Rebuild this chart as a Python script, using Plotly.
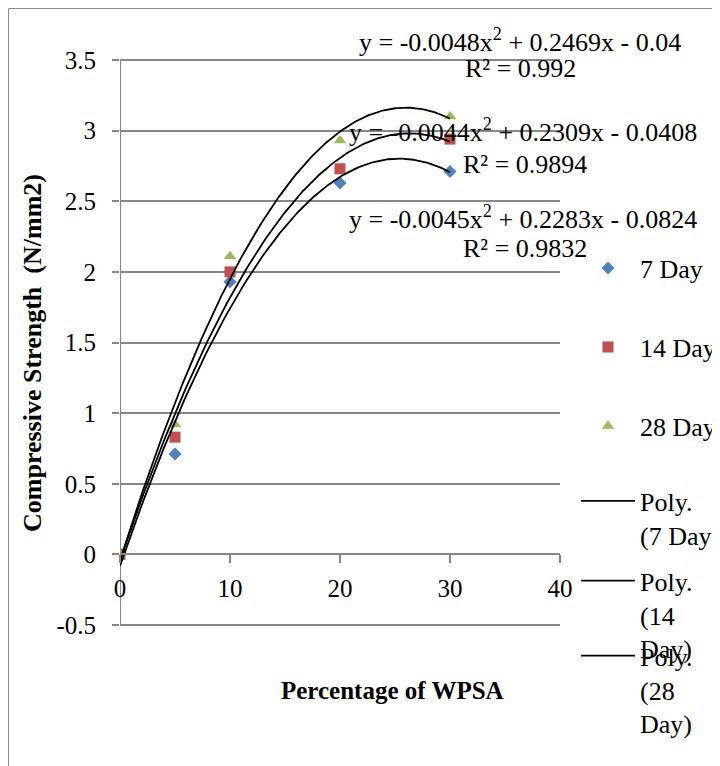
import numpy as np
import plotly.graph_objects as go

# ---------------- data ----------------
pct = [0, 5, 10, 20, 30]
day7 = [0.0, 0.71, 1.93, 2.63, 2.71]
day14 = [0.0, 0.83, 2.00, 2.73, 2.94]
day28 = [0.0, 0.92, 2.11, 2.93, 3.10]

series_names = ["7 Day", "14 Day", "28 Day"]
series_values = [day7, day14, day28]
# quadratic trendline equations as displayed on chart (a, b, c)
eq7 = [-0.0045, 0.2283, -0.0824]
eq14 = [-0.0044, 0.2309, -0.0408]
eq28 = [-0.0048, 0.2469, -0.04]
r2_values = ["0.9832", "0.9894", "0.992"]
eqs = [eq7, eq14, eq28]

y_ticks = [-0.5, 0, 0.5, 1, 1.5, 2, 2.5, 3, 3.5]
x_ticks = [0, 10, 20, 30, 40]

colors = ["#4F81BD", "#C0504D", "#9BBB59"]
symbols = ["diamond", "square", "triangle-up"]
sizes = [10, 11, 11]

# ---------------- layout helpers ----------------
OFF = 8  # page offset of the figure
W, H = 712, 758
EXT = 0.0142  # small range extension so edge gridlines are drawn (~2px)
L, T = 112, 50
R = W - (560 - OFF)
B = H - (627 - OFF)
PW, PH = W - L - R, H - T - B
FONT = "Liberation Serif, Times New Roman, serif"
GRID = "#878787"
YR = [y_ticks[0] - EXT, y_ticks[-1] + EXT]


def px(x):
    return (x - OFF - L) / PW


def py(y):
    return (H - B - (y - OFF)) / PH


fig = go.Figure()

legend_ids = ["legend", "legend2", "legend3", "legend4", "legend5", "legend6"]

for i, (nm, vals) in enumerate(zip(series_names, series_values)):
    fig.add_trace(go.Scatter(
        x=pct, y=vals, mode="markers", name=nm,
        marker=dict(symbol=symbols[i], color=colors[i], size=sizes[i], line=dict(width=0)),
        legend=legend_ids[i], showlegend=True,
    ))

poly_names = ["Poly.<br>(7 Day)", "Poly.<br>(14<br>Day)", "Poly.<br>(28<br>Day)"]
xs = np.linspace(min(pct), max(pct), 200)
for i, vals in enumerate(series_values):
    fit = np.polyfit(pct, vals, 2)
    fig.add_trace(go.Scatter(
        x=xs, y=np.polyval(fit, xs), mode="lines", name=poly_names[i],
        line=dict(color="black", width=1.8),
        legend=legend_ids[3 + i], showlegend=True,
    ))

# equations annotations (page pixel centres)
eq_pos = [  # (eq x, eq y, r2 x, r2 y) per series 7,14,28
    (523, 217, 525, 248),
    (523, 131, 525, 164),
    (520, 40, 520, 69),
]
annotations = []
for i, c in enumerate(eqs):
    a, b, cc = c
    sign = "-" if cc < 0 else "+"
    txt = f"y = {a:g}x<sup>2</sup> + {b:g}x {sign} {abs(cc):g}"
    ex, ey, rx, ry = eq_pos[i]
    annotations.append(dict(text=txt, x=px(ex), y=py(ey), xref="paper", yref="paper",
                            showarrow=False, xanchor="center", yanchor="middle",
                            font=dict(family=FONT, size=26, color="black")))
    annotations.append(dict(text=f"R² = {r2_values[i]}", x=px(rx), y=py(ry), xref="paper", yref="paper",
                            showarrow=False, xanchor="center", yanchor="middle",
                            font=dict(family=FONT, size=26, color="black")))

# axis titles
annotations.append(dict(text="<b>Percentage of WPSA</b>", x=px(392), y=py(690), xref="paper", yref="paper",
                        showarrow=False, xanchor="center", yanchor="middle",
                        font=dict(family=FONT, size=25, color="black")))
annotations.append(dict(text="<b>Compressive Strength  (N/mm2)</b>", x=px(33), y=py(353), xref="paper", yref="paper",
                        showarrow=False, xanchor="center", yanchor="middle", textangle=-90,
                        font=dict(family=FONT, size=26, color="black")))

# legends
LH = 26 * 1.3
leg_common = dict(font=dict(family=FONT, size=26, color="black"), bgcolor="rgba(0,0,0,0)",
                  borderwidth=0, itemwidth=54, xanchor="left", yanchor="middle",
                  x=px(576), valign="top", itemclick=False, itemdoubleclick=False)
leg_symbol_y = [268, 347, 426, 501, 581, 656]
leg_lines = [1, 1, 1, 2, 3, 3]
legend_layout = {}
for lid, sy, nl in zip(legend_ids, leg_symbol_y, leg_lines):
    mid = sy + (nl - 1) / 2 * LH
    legend_layout[lid] = dict(leg_common, y=py(mid))

fig.update_layout(
    width=W, height=H,
    margin=dict(l=L, r=R, t=T, b=B, autoexpand=False),
    paper_bgcolor="white", plot_bgcolor="white",
    font=dict(family=FONT, size=25, color="black"),
    annotations=annotations,
    shapes=[dict(type="rect", xref="paper", yref="paper", x0=px(8.5), x1=px(760), y0=py(800), y1=py(8.5),
                 line=dict(color="#8c8c8c", width=1), fillcolor="rgba(0,0,0,0)", layer="below")],
    **legend_layout,
)

fig.update_xaxes(
    range=[0, 40], tickvals=x_ticks, ticktext=[str(v) for v in x_ticks],
    showgrid=False, zeroline=False, showline=True, linecolor=GRID, linewidth=2,
    ticks="outside", ticklen=8, tickwidth=2, tickcolor=GRID,
    anchor="free", position=(0 - YR[0]) / (YR[1] - YR[0]),
    ticklabelstandoff=4, tickfont=dict(family=FONT, size=25, color="black"),
)
fig.update_yaxes(
    range=YR, tickvals=y_ticks, ticktext=[f"{v:g}" for v in y_ticks],
    showgrid=True, gridcolor=GRID, gridwidth=2, zeroline=False,
    showline=False,
    ticks="outside", ticklen=7, tickwidth=2, tickcolor=GRID,
    ticklabelstandoff=11, tickfont=dict(family=FONT, size=25, color="black"),
)
# y axis line spanning the tick range (like the reference)
fig.add_shape(type="line", xref="x", yref="y", x0=0, x1=0, y0=y_ticks[0], y1=y_ticks[-1],
              line=dict(color=GRID, width=2), layer="below")

fig.write_html("out.html")
